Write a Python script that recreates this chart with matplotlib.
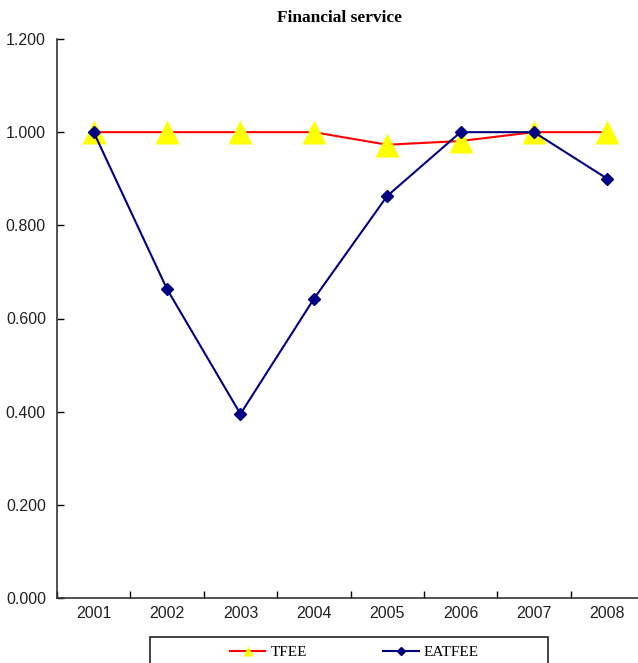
import matplotlib.pyplot as plt
from matplotlib.lines import Line2D
from matplotlib.patches import Rectangle
from matplotlib.ticker import FixedLocator, NullFormatter

years = ['2001', '2002', '2003', '2004', '2005', '2006', '2007', '2008']
tfee = [1.000, 1.000, 1.000, 1.000, 0.973, 0.981, 1.000, 1.000]
eatfee = [1.000, 0.663, 0.395, 0.642, 0.863, 1.000, 1.000, 0.900]

narrow = ['Liberation Sans Narrow', 'Liberation Sans', 'DejaVu Sans']
serif = ['Liberation Serif', 'DejaVu Serif']

W, H = 638, 663
fig = plt.figure(figsize=(W / 100, H / 100), dpi=100)
ax = fig.add_axes([57 / W, 65 / H, 587 / W, 559 / H])

x = list(range(len(years)))
ax.plot(x, tfee, color='#ff0000', lw=1.5, marker='^', markersize=17,
        markerfacecolor='#ffff00', markeredgecolor='none', zorder=2)
ax.plot(x, eatfee, color='#000080', lw=1.5, marker='D', markersize=6,
        markerfacecolor='#000080', markeredgecolor='#000080', zorder=3)

ax.set_xlim(-0.5, 7.5)
ax.set_ylim(0, 1.2)
ax.set_yticks([0, 0.2, 0.4, 0.6, 0.8, 1.0, 1.2])
ax.set_yticklabels(['%.3f' % v for v in ax.get_yticks()])
ax.set_xticks(x)
ax.set_xticklabels(years)
ax.xaxis.set_minor_locator(FixedLocator([i + 0.5 for i in range(-1, 8)]))
ax.xaxis.set_minor_formatter(NullFormatter())
ax.tick_params(axis='x', which='major', length=0, pad=6)
ax.tick_params(axis='x', which='minor', direction='in', length=5, width=1)
ax.tick_params(axis='y', direction='in', length=5, width=1, pad=8)
for lab in ax.get_xticklabels() + ax.get_yticklabels():
    lab.set_family(narrow)
    lab.set_fontsize(11.5)
    lab.set_color('#222222')

for s in ['top', 'right']:
    ax.spines[s].set_visible(False)
for s in ['left', 'bottom']:
    ax.spines[s].set_color('#333333')
    ax.spines[s].set_linewidth(1.2)

fig.text(339 / W, 1 - 18 / H, 'Financial service', ha='center', va='center',
         family=serif, fontweight='bold', fontsize=12.5)

# legend box (runs off the bottom edge, as in the source)
fig.patches.append(Rectangle((150 / W, -10 / H), 398 / W, (663 - 637 + 10) / H,
                             transform=fig.transFigure, facecolor='white',
                             edgecolor='#222222', lw=1.2, zorder=1))
handles = [
    Line2D([], [], color='#ff0000', lw=1.5, marker='^', markersize=7,
           markerfacecolor='#ffff00', markeredgecolor='none'),
    Line2D([], [], color='#000080', lw=1.5, marker='D', markersize=4.5,
           markerfacecolor='#000080'),
]
leg = fig.legend(handles, ['TFEE', 'EATFEE'], loc='center left',
                 bbox_to_anchor=(230 / W, 1 - 652 / H), ncol=2,
                 frameon=False, prop={'family': serif, 'size': 11},
                 handlelength=2.3, handletextpad=0.35, columnspacing=5.0,
                 borderpad=0, borderaxespad=0)
leg.set_zorder(3)

fig.savefig('out.png', dpi=100)
